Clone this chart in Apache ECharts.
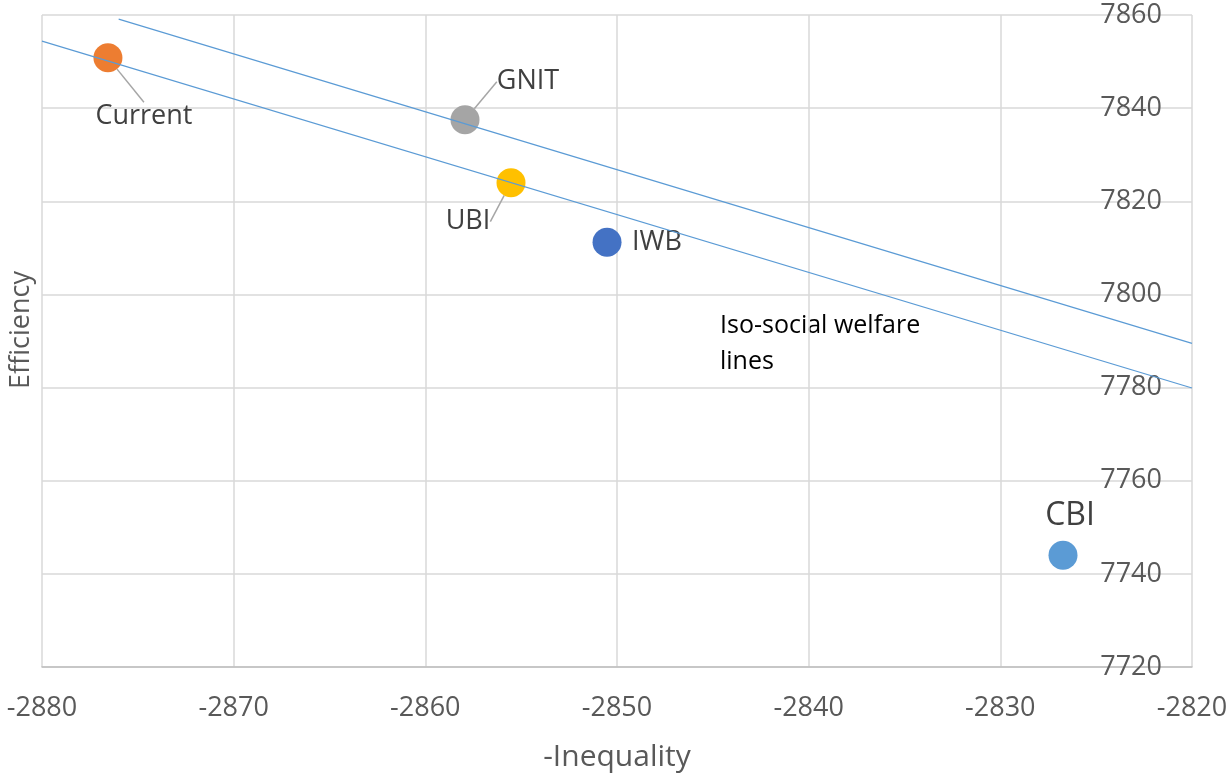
<!DOCTYPE html>
<html>
<head>
<meta charset="utf-8">
<script src="https://cdn.jsdelivr.net/npm/echarts@6/dist/echarts.min.js"></script>
<style>
  html, body { margin: 0; padding: 0; background: #fff; }
  #chart { width: 1232px; height: 777px; }
</style>
</head>
<body>
<div id="chart"></div>
<script>
// policy points
var names = ['Current', 'GNIT', 'UBI', 'IWB', 'CBI'];
var inequality = [-2876.56, -2857.93, -2855.53, -2850.52, -2826.73];
var efficiency = [7850.8, 7837.5, 7824.0, 7811.2, 7744.0];

// iso-social welfare lines (start, end)
var isoUpperX = [-2876.0, -2820];
var isoUpperY = [7859.1, 7789.5];
var isoLowerX = [-2880, -2820];
var isoLowerY = [7854.4, 7779.9];

var xTicks = [-2880, -2870, -2860, -2850, -2840, -2830, -2820];
var yTicks = [7720, 7740, 7760, 7780, 7800, 7820, 7840, 7860];

var colors = ['#ED7D31', '#A5A5A5', '#FFC000', '#4472C4', '#5B9BD5'];
var FONT = '"Open Sans", sans-serif';

// where each label sits relative to its point
var labelSetup = {
    Current: { layout: { dx: 36, dy: 58 }, line: true, size: 27 },
    GNIT:    { layout: { dx: 63, dy: -38 }, line: true, size: 27 },
    UBI:     { layout: { dx: -43, dy: 39 }, line: true, size: 27 },
    IWB:     { layout: { dx: 50, dy: 0 }, line: false, size: 27 },
    CBI:     { layout: { dx: 7, dy: -39 }, line: false, size: 32 }
};

var myChart = echarts.init(document.getElementById('chart'));

var series = [];

function lineData(xs, ys) {
    return xs.map(function (x, i) { return [x, ys[i]]; });
}

series.push({
    type: 'line',
    data: lineData(isoUpperX, isoUpperY),
    symbol: 'none',
    lineStyle: { color: '#5B9BD5', width: 1.2 },
    silent: true,
    z: 3
});
series.push({
    type: 'line',
    data: lineData(isoLowerX, isoLowerY),
    symbol: 'none',
    lineStyle: { color: '#5B9BD5', width: 1.2 },
    silent: true,
    z: 3
});

names.forEach(function (n, i) {
    var s = labelSetup[n];
    series.push({
        name: n,
        type: 'scatter',
        symbolSize: 29,
        z: 2,
        itemStyle: { color: colors[i], opacity: 1 },
        data: [[inequality[i], efficiency[i]]],
        label: {
            show: true,
            position: 'inside',
            formatter: n,
            color: '#404040',
            fontFamily: FONT,
            fontSize: s.size
        },
        labelLayout: s.layout,
        labelLine: {
            show: s.line,
            lineStyle: { color: '#A6A6A6', width: 1.5 }
        }
    });
});

function plain(v) {
    return String(v);
}

var option = {
    backgroundColor: '#fff',
    animation: false,
    grid: {
        left: 42,
        right: 40,
        top: 15,
        bottom: 108
    },
    xAxis: {
        type: 'value',
        min: xTicks[0],
        max: xTicks[xTicks.length - 1],
        interval: 10,
        name: '-Inequality',
        nameLocation: 'middle',
        nameGap: 75,
        nameTextStyle: { color: '#595959', fontFamily: FONT, fontSize: 30 },
        axisLine: { show: true, lineStyle: { color: '#BFBFBF', width: 1.5 } },
        axisTick: { show: false },
        axisLabel: { color: '#595959', fontFamily: FONT, fontSize: 27, margin: 28, formatter: plain },
        splitLine: { show: true, lineStyle: { color: '#D9D9D9', width: 1.5 } }
    },
    yAxis: {
        type: 'value',
        position: 'right',
        min: yTicks[0],
        max: yTicks[yTicks.length - 1],
        interval: 20,
        axisLine: { show: false },
        axisTick: { show: false },
        axisLabel: {
            inside: true,
            margin: 30,
            color: '#595959',
            fontFamily: FONT,
            fontSize: 27,
            formatter: plain
        },
        splitLine: { show: true, lineStyle: { color: '#D9D9D9', width: 1.5 } }
    },
    graphic: [
        {
            type: 'text',
            x: 21,
            y: 330,
            rotation: Math.PI / 2,
            style: {
                text: 'Efficiency',
                fill: '#595959',
                font: '27px ' + FONT,
                align: 'center',
                verticalAlign: 'middle'
            }
        },
        {
            type: 'text',
            left: 720,
            top: 308,
            style: {
                text: 'Iso-social welfare\nlines',
                fill: '#000000',
                font: '25px ' + FONT,
                lineHeight: 36
            }
        }
    ],
    series: series
};

myChart.setOption(option);
</script>
</body>
</html>
